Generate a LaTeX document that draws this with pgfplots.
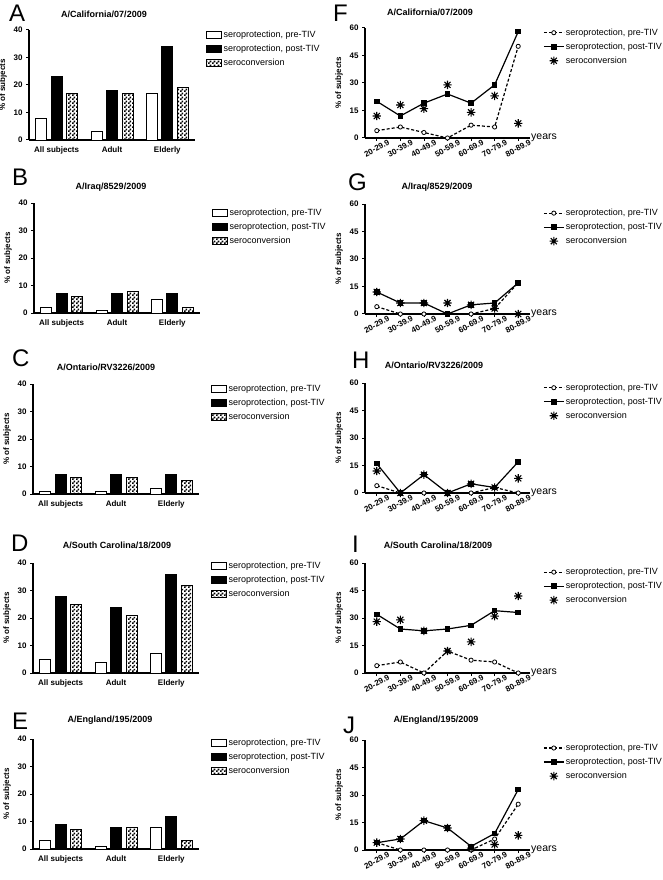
\documentclass[border=0pt]{standalone}
\usepackage{fontspec}
\setmainfont{Liberation Sans}
\usepackage{pgfplots}
\pgfplotsset{compat=1.18}
\usetikzlibrary{patterns}

% fine checkerboard, 2pt squares
\pgfdeclarepatternformonly{finecheck}{\pgfpointorigin}{\pgfqpoint{4pt}{4pt}}{\pgfqpoint{4pt}{4pt}}{%
  \pgfpathrectangle{\pgfpointorigin}{\pgfqpoint{2pt}{2pt}}%
  \pgfpathrectangle{\pgfqpoint{2pt}{2pt}}{\pgfqpoint{2pt}{2pt}}%
  \pgfusepath{fill}}
% eight-armed asterisk
\pgfdeclareplotmark{ast8}{%
  \pgfpathmoveto{\pgfqpoint{0pt}{\pgfplotmarksize}}%
  \pgfpathlineto{\pgfqpoint{0pt}{-\pgfplotmarksize}}%
  \pgfpathmoveto{\pgfqpoint{\pgfplotmarksize}{0pt}}%
  \pgfpathlineto{\pgfqpoint{-\pgfplotmarksize}{0pt}}%
  \pgfpathmoveto{\pgfqpoint{0.72\pgfplotmarksize}{0.72\pgfplotmarksize}}%
  \pgfpathlineto{\pgfqpoint{-0.72\pgfplotmarksize}{-0.72\pgfplotmarksize}}%
  \pgfpathmoveto{\pgfqpoint{-0.72\pgfplotmarksize}{0.72\pgfplotmarksize}}%
  \pgfpathlineto{\pgfqpoint{0.72\pgfplotmarksize}{-0.72\pgfplotmarksize}}%
  \pgfusepathqstroke}

\pgfplotsset{
  common/.style={
    scale only axis, axis lines=left, axis line style={-, line width=1.2pt},
    tick style={black, line width=1pt}, tick align=outside, major tick length=3pt,
    ymin=0, clip=false,
    /pgf/number format/assume math mode=true,
    ticklabel style={font=\fontsize{8}{9}\selectfont\bfseries},
    ylabel={\% of subjects},
    ylabel style={font=\fontsize{8}{9}\selectfont\bfseries},
    legend cell align=left,
    legend style={draw=none, fill=none, font=\fontsize{9}{10}\selectfont,
      anchor=north west, inner sep=0pt, row sep=5pt,
      nodes={inner xsep=1.5pt, inner ysep=0.5pt}},
  },
  barax/.style={common, width=166pt, height=110pt, ymax=40, ytick={0,10,20,30,40},
    xmin=-0.5, xmax=2.5, xtick={0,1,2}, xticklabels={All subjects,Adult,Elderly},
    x tick style={draw=none}, ybar=4.5pt, bar width=11pt,
    legend image code/.code={\draw[#1] (0pt,-3.5pt) rectangle (15pt,3.5pt);}},
  lineax/.style={common, width=165pt, height=110pt, ymax=60, ytick={0,15,30,45,60},
    xmin=-0.5, xmax=6.5, xtick={0,...,6},
    xticklabels={20-29.9,30-39.9,40-49.9,50-59.9,60-69.9,70-79.9,80-89.9},
    xticklabel style={rotate=28, anchor=center, xshift=-3.5pt, yshift=-6.5pt},
    x tick style={line width=0.8pt},
    xlabel={years},
    xlabel style={at={(axis description cs:1,0)}, anchor=west,
      font=\fontsize{10.5}{11}\selectfont, inner xsep=1pt},
    legend image code/.code={\draw[mark repeat=2, mark phase=2, #1]
      plot coordinates {(0pt,0pt) (10pt,0pt) (20pt,0pt)};}},
  pre/.style={black, line width=1.2pt, dash pattern=on 3pt off 2pt, mark=*,
    mark size=2.1pt, mark options={solid, fill=white, line width=0.8pt}},
  post/.style={black, line width=1.2pt, mark=square*, mark size=2.2pt, mark options={solid}},
  sero/.style={black, only marks, mark=ast8, mark size=4.2pt, mark options={line width=1.1pt}},
  bpre/.style={draw=black, fill=white, line width=0.9pt},
  bpost/.style={draw=black, fill=black, line width=0.9pt},
  bsero/.style={draw=black, pattern=finecheck, pattern color=black, line width=0.9pt},
}

\newcommand{\barlegend}{%
  \addlegendentry{seroprotection, pre-TIV}
  \addlegendentry{seroprotection, post-TIV}
  \addlegendentry{seroconversion}}

\begin{document}
\begin{tikzpicture}
\useasboundingbox (0pt,0pt) rectangle (662pt,-880pt);
\tikzset{lett/.style={anchor=west, inner sep=0pt, font=\fontsize{24}{24}\selectfont},
  ttl/.style={inner sep=0pt, font=\fontsize{9}{10}\selectfont\bfseries}}

% ---------------- left column: bar charts ----------------
\node[lett] at (9pt,-13pt) {A};
\node[ttl] at (104pt,-14pt) {A/California/07/2009};
\begin{axis}[barax, at={(29pt,-30pt)}, anchor=north west,
  legend style={at={(1.066,1)}}]
\addplot[bpre] coordinates {(0,8) (1,3) (2,17)};
\addplot[bpost] coordinates {(0,23) (1,18) (2,34)};
\addplot[bsero] coordinates {(0,17) (1,17) (2,19)};
\barlegend
\end{axis}

\node[lett] at (12pt,-177pt) {B};
\node[ttl] at (111pt,-187pt) {A/Iraq/8529/2009};
\begin{axis}[barax, at={(34pt,-203pt)}, anchor=north west,
  legend style={at={(1.072,0.955)}}]
\addplot[bpre] coordinates {(0,2) (1,1) (2,5)};
\addplot[bpost] coordinates {(0,7) (1,7) (2,7)};
\addplot[bsero] coordinates {(0,6) (1,8) (2,2)};
\barlegend
\end{axis}

\node[lett] at (12pt,-358pt) {C};
\node[ttl] at (106pt,-367pt) {A/Ontario/RV3226/2009};
\begin{axis}[barax, at={(33pt,-384pt)}, anchor=north west,
  legend style={at={(1.072,1)}}]
\addplot[bpre] coordinates {(0,1) (1,1) (2,2)};
\addplot[bpost] coordinates {(0,7) (1,7) (2,7)};
\addplot[bsero] coordinates {(0,6) (1,6) (2,5)};
\barlegend
\end{axis}

\node[lett] at (11pt,-543pt) {D};
\node[ttl] at (117pt,-545pt) {A/South Carolina/18/2009};
\begin{axis}[barax, at={(33pt,-563pt)}, anchor=north west,
  legend style={at={(1.072,1.02)}}]
\addplot[bpre] coordinates {(0,5) (1,4) (2,7)};
\addplot[bpost] coordinates {(0,28) (1,24) (2,36)};
\addplot[bsero] coordinates {(0,25) (1,21) (2,32)};
\barlegend
\end{axis}

\node[lett] at (12pt,-721pt) {E};
\node[ttl] at (110pt,-720pt) {A/England/195/2009};
\begin{axis}[barax, at={(33pt,-739pt)}, anchor=north west,
  legend style={at={(1.072,1.01)}}]
\addplot[bpre] coordinates {(0,3) (1,1) (2,8)};
\addplot[bpost] coordinates {(0,9) (1,8) (2,12)};
\addplot[bsero] coordinates {(0,7) (1,8) (2,3)};
\barlegend
\end{axis}

% ---------------- right column: age groups ----------------
\node[lett] at (333pt,-13pt) {F};
\node[ttl] at (430pt,-12pt) {A/California/07/2009};
\begin{axis}[lineax, at={(365pt,-28pt)}, anchor=north west,
  legend style={at={(1.079,1)}}]
\addplot[pre] coordinates {(0,4) (1,6) (2,3) (3,0) (4,7) (5,6) (6,50)};
\addplot[post] coordinates {(0,20) (1,12) (2,19) (3,24) (4,19) (5,29) (6,58)};
\addplot[sero] coordinates {(0,12) (1,18) (2,16) (3,29) (4,14) (5,23) (6,8)};
\barlegend
\end{axis}

\node[lett] at (348pt,-182pt) {G};
\node[ttl] at (437pt,-187pt) {A/Iraq/8529/2009};
\begin{axis}[lineax, at={(365pt,-204pt)}, anchor=north west,
  legend style={at={(1.079,0.96)}}]
\addplot[pre] coordinates {(0,4) (1,0) (2,0) (3,0) (4,0) (5,3) (6,17)};
\addplot[post] coordinates {(0,12) (1,6) (2,6) (3,0) (4,5) (5,6) (6,17)};
\addplot[sero] coordinates {(0,12) (1,6) (2,6) (3,6) (4,5) (5,3) (6,0)};
\barlegend
\end{axis}

\node[lett] at (352pt,-360pt) {H};
\node[ttl] at (434pt,-365pt) {A/Ontario/RV3226/2009};
\begin{axis}[lineax, at={(365pt,-383pt)}, anchor=north west,
  legend style={at={(1.079,1)}}]
\addplot[pre] coordinates {(0,4) (1,0) (2,0) (3,0) (4,0) (5,3) (6,0)};
\addplot[post] coordinates {(0,16) (1,0) (2,10) (3,0) (4,5) (5,3) (6,17)};
\addplot[sero] coordinates {(0,12) (1,0) (2,10) (3,0) (4,5) (5,3) (6,8)};
\barlegend
\end{axis}

\node[lett] at (352pt,-544pt) {I};
\node[ttl] at (438pt,-545pt) {A/South Carolina/18/2009};
\begin{axis}[lineax, at={(365pt,-563pt)}, anchor=north west,
  legend style={at={(1.079,0.96)}}]
\addplot[pre] coordinates {(0,4) (1,6) (2,0) (3,12) (4,7) (5,6) (6,0)};
\addplot[post] coordinates {(0,32) (1,24) (2,23) (3,24) (4,26) (5,34) (6,33)};
\addplot[sero] coordinates {(0,28) (1,29) (2,23) (3,12) (4,17) (5,31) (6,42)};
\barlegend
\end{axis}

\node[lett] at (343pt,-725pt) {J};
\node[ttl] at (436pt,-720pt) {A/England/195/2009};
\begin{axis}[lineax, at={(365pt,-740pt)}, anchor=north west,
  legend style={at={(1.079,0.97)}}]
\addplot[pre] coordinates {(0,4) (1,0) (2,0) (3,0) (4,0) (5,6) (6,25)};
\addplot[post] coordinates {(0,4) (1,6) (2,16) (3,12) (4,2) (5,9) (6,33)};
\addplot[sero] coordinates {(0,4) (1,6) (2,16) (3,12) (4,1) (5,3) (6,8)};
\barlegend
\end{axis}
\end{tikzpicture}
\end{document}
